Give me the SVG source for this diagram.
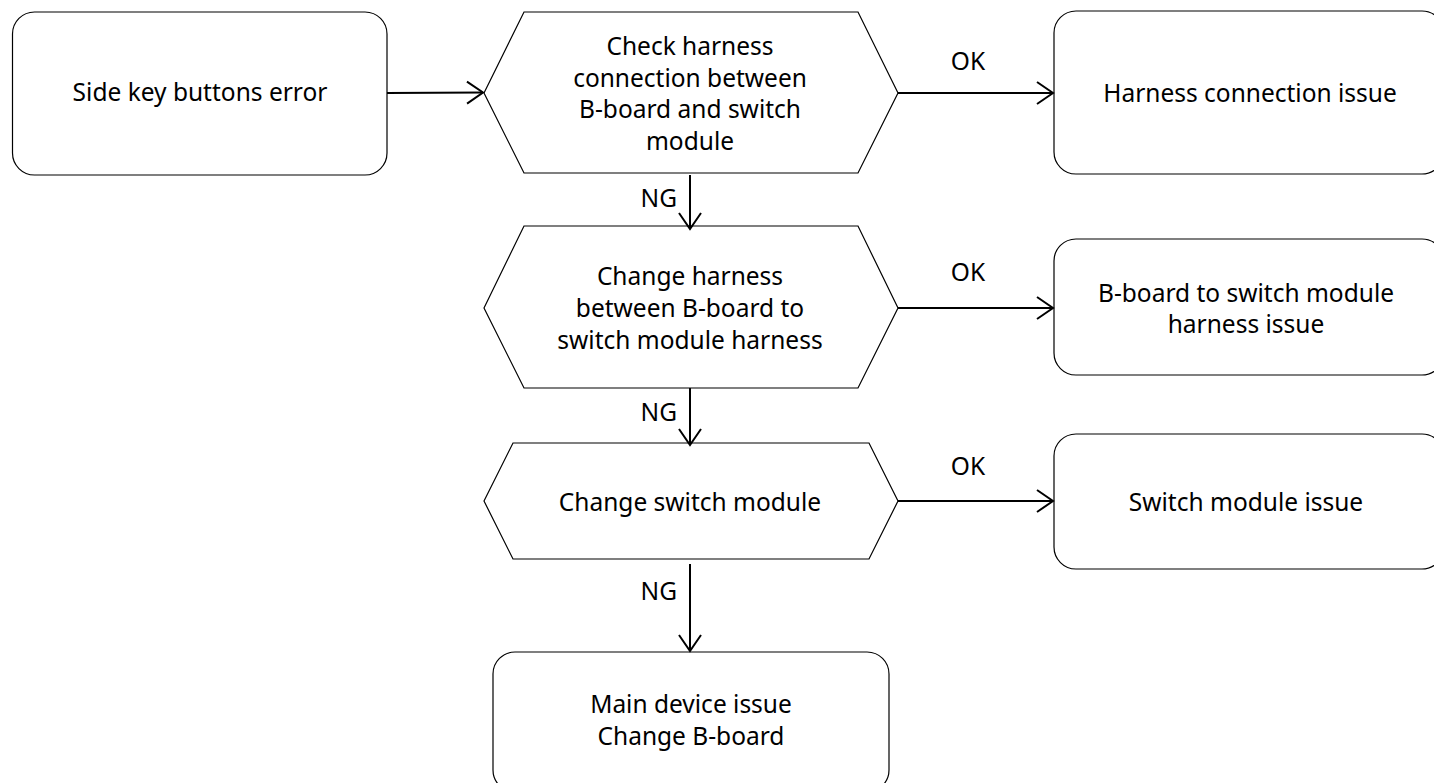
<svg xmlns="http://www.w3.org/2000/svg" width="1434" height="783" viewBox="0 0 1434 783">
<defs>
<style>
.box{fill:#fff;stroke:#000;stroke-width:1.2}
.t{font-family:"Noto Sans","Open Sans",sans-serif;font-size:24.5px;fill:#000;text-anchor:middle}
.lbl{font-family:"Noto Sans","Open Sans",sans-serif;font-size:24.5px;fill:#000}
.c{fill:none;stroke:#000;stroke-width:2}
</style>
<marker id="ah" markerWidth="24" markerHeight="26" refX="18" refY="13" orient="auto" markerUnits="userSpaceOnUse">
<path d="M2,2 L18,13 L2,24" fill="none" stroke="#000" stroke-width="2"/>
</marker>
</defs>
<rect width="1434" height="783" fill="#fff"/>
<g id="start">
<rect class="box" x="12.5" y="12" width="374.5" height="163" rx="22"/>
<text class="t" x="200" y="101">Side key buttons error</text>
</g>
<g id="check1">
<polygon class="box" points="484,93 524,12 858,12 898,93 858,173 524,173"/>
<text class="t" x="690" y="55">Check harness</text>
<text class="t" x="690" y="87">connection between</text>
<text class="t" x="690" y="118">B-board and switch</text>
<text class="t" x="690" y="150">module</text>
</g>
<g id="res1">
<rect class="box" x="1054" y="11" width="390" height="163" rx="22"/>
<text class="t" x="1250" y="102">Harness connection issue</text>
</g>
<g id="check2">
<polygon class="box" points="484,308 524,226 858,226 898,308 858,388 524,388"/>
<text class="t" x="690" y="285">Change harness</text>
<text class="t" x="690" y="317">between B-board to</text>
<text class="t" x="690" y="349">switch module harness</text>
</g>
<g id="res2">
<rect class="box" x="1054" y="239" width="390" height="136" rx="22"/>
<text class="t" x="1246" y="302">B-board to switch module</text>
<text class="t" x="1246" y="333">harness issue</text>
</g>
<g id="check3">
<polygon class="box" points="484,501 513,443 869,443 898,501 869,559 513,559"/>
<text class="t" x="690" y="511">Change switch module</text>
</g>
<g id="res3">
<rect class="box" x="1054" y="434" width="390" height="135" rx="22"/>
<text class="t" x="1246" y="511">Switch module issue</text>
</g>
<g id="end">
<rect class="box" x="493" y="652" width="396" height="140" rx="22"/>
<text class="t" x="691" y="713">Main device issue</text>
<text class="t" x="691" y="745">Change B-board</text>
</g>
<g id="connectors">
<line class="c" x1="387" y1="93" x2="483" y2="92.5" marker-end="url(#ah)"/>
<line class="c" x1="898" y1="93" x2="1053" y2="93" marker-end="url(#ah)"/>
<text class="lbl" x="968" y="70" text-anchor="middle">OK</text>
<line class="c" x1="690" y1="175" x2="690" y2="229" marker-end="url(#ah)"/>
<text class="lbl" x="677" y="207" text-anchor="end">NG</text>
<line class="c" x1="898" y1="308" x2="1053" y2="308" marker-end="url(#ah)"/>
<text class="lbl" x="968" y="281" text-anchor="middle">OK</text>
<line class="c" x1="690" y1="388" x2="690" y2="445" marker-end="url(#ah)"/>
<text class="lbl" x="677" y="421" text-anchor="end">NG</text>
<line class="c" x1="898" y1="501" x2="1053" y2="501" marker-end="url(#ah)"/>
<text class="lbl" x="968" y="475" text-anchor="middle">OK</text>
<line class="c" x1="690" y1="564" x2="690" y2="651" marker-end="url(#ah)"/>
<text class="lbl" x="677" y="600" text-anchor="end">NG</text>
</g>
</svg>
